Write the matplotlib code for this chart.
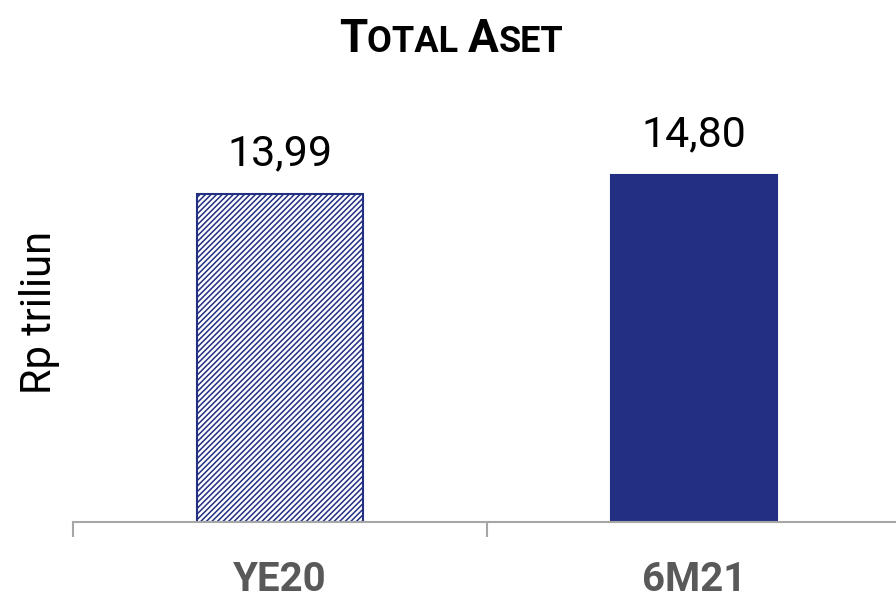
import matplotlib
matplotlib.use('Agg')
import matplotlib.pyplot as plt
import numpy as np

categories = ['YE20', '6M21']
values = [13.99, 14.80]
value_labels = ['13,99', '14,80']
title_parts = [('T', 'big'), ('OTAL ', 'small'), ('A', 'big'), ('SET', 'small')]

navy = '#232f82'
plt.rcParams['font.family'] = ['Roboto', 'DejaVu Sans']
plt.rcParams['hatch.linewidth'] = 1.1
plt.rcParams['hatch.color'] = navy

fig = plt.figure(figsize=(8.96, 6.01), dpi=100)
ax = fig.add_axes([73/896, 79/601, 828/896, 375/601])

x = np.arange(len(categories))
bars = ax.bar(x, values, width=0.4, color=['white', navy], edgecolor=navy, linewidth=1.5)
bars[0].set_hatch('//////')

for xi, v, lab in zip(x, values, value_labels):
    ax.annotate(lab, (xi, v), xytext=(0, 14), textcoords='offset points',
                ha='center', va='bottom', fontsize=31, color='black')

ax.set_xlim(-0.5, 1.5)
ax.set_ylim(0, 16)
ax.set_yticks([])
for s in ['top', 'right', 'left']:
    ax.spines[s].set_visible(False)
ax.spines['bottom'].set_color('#a6a6a6')
ax.spines['bottom'].set_linewidth(1.5)
ax.set_xticks([-0.5, 0.5, 1.5])
ax.set_xticklabels([])
ax.tick_params(axis='x', length=11, width=1.5, color='#a6a6a6', direction='out')
for xi, c in zip(x, categories):
    ax.text(xi, -39/375, c, transform=ax.get_xaxis_transform(), ha='center', va='top',
            fontsize=29, fontweight='bold', color='#595959')

fig.text(40/896, 1 - 312/601, 'Rp triliun', rotation=90, ha='center', va='center',
         fontsize=30, color='black')

# title in small caps, built from pieces
renderer = fig.canvas.get_renderer()
pieces = []
xpos = 0
for txt, kind in title_parts:
    size = 33 if kind == 'big' else 26
    t = fig.text(0, 0, txt, fontsize=size, fontweight='bold', va='baseline', ha='left')
    w = t.get_window_extent(renderer).width
    pieces.append((t, xpos))
    xpos += w
start = 451 - xpos / 2
for t, off in pieces:
    t.set_position(((start + off) / 896, (601 - 52) / 601))

fig.savefig('out.png', dpi=100)
